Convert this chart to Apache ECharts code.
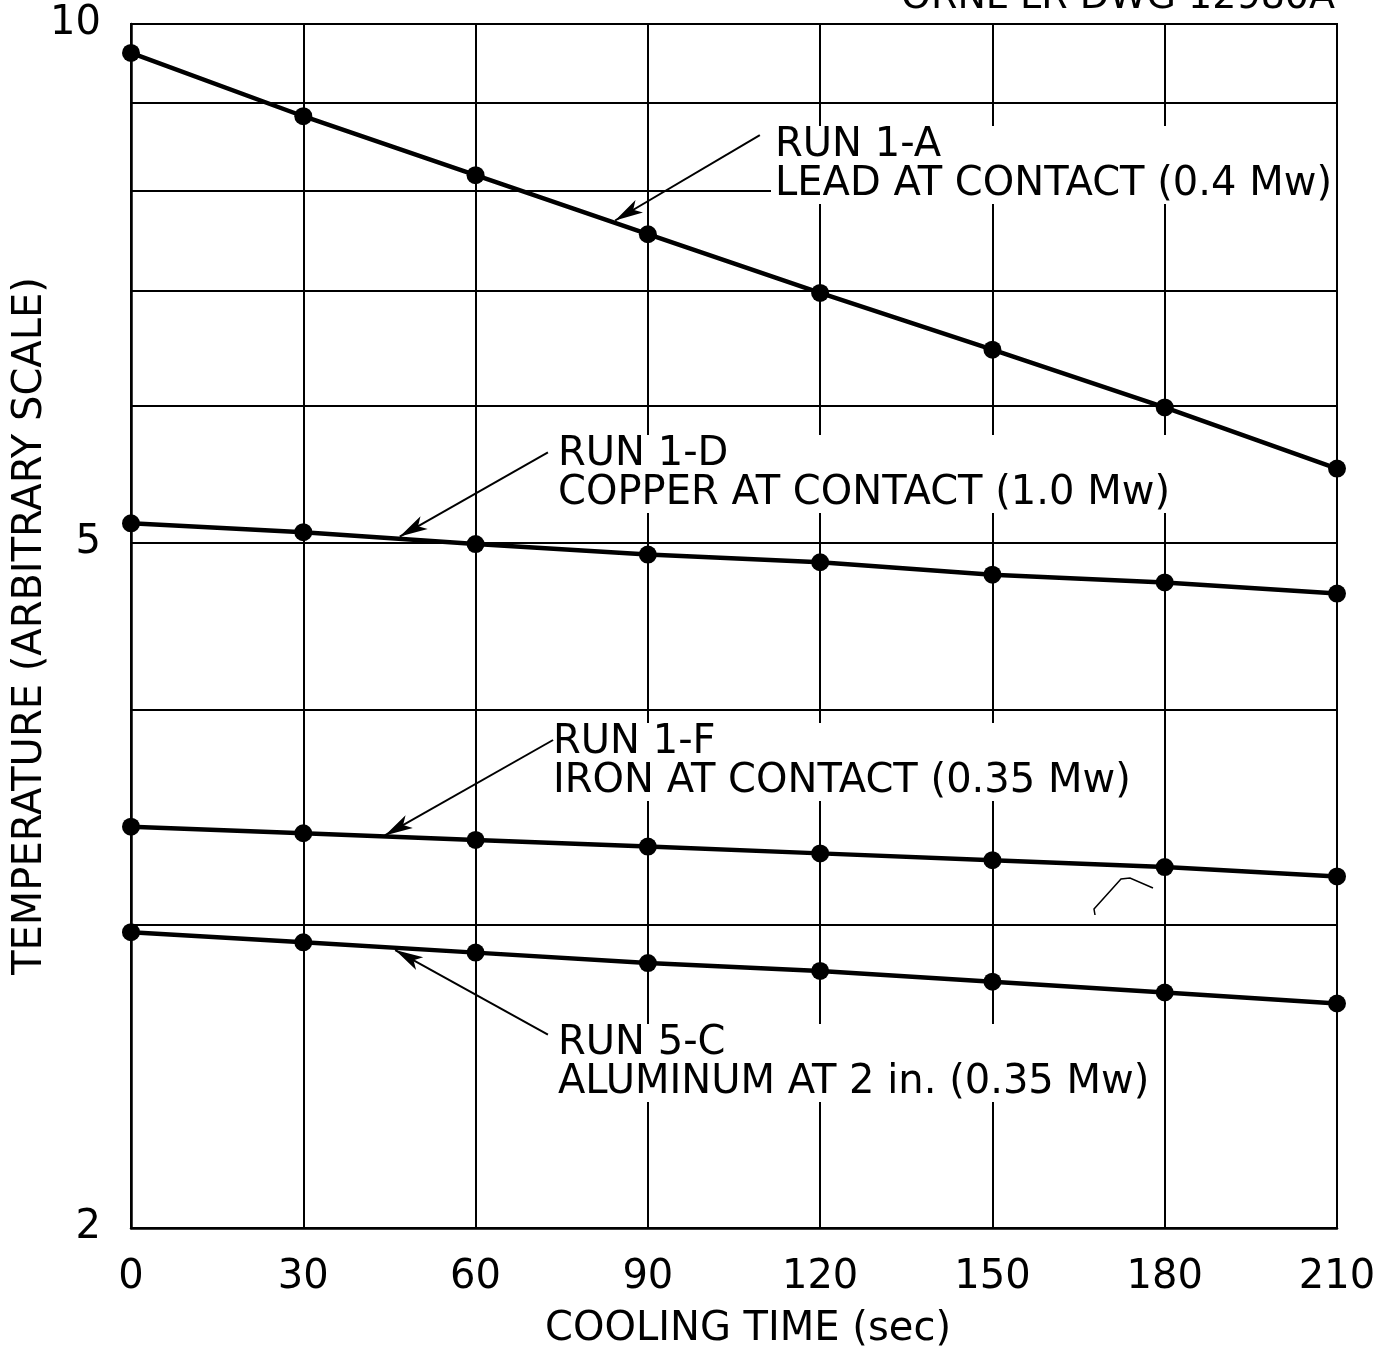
<!DOCTYPE html>
<html>
<head>
<meta charset="utf-8">
<script src="https://cdn.jsdelivr.net/npm/echarts@6/dist/echarts.min.js"></script>
<style>
html, body { margin: 0; padding: 0; background: #fff; }
#main { width: 1377px; height: 1349px; }
</style>
</head>
<body>
<div id="main"></div>
<script>
// cooling time (sec) and temperature readings (arbitrary scale)
const coolingTime = [0, 30, 60, 90, 120, 150, 180, 210];
const run1A = [9.62, 8.84, 8.17, 7.55, 6.98, 6.47, 5.99, 5.52];
const run1D = [5.13, 5.07, 4.99, 4.92, 4.87, 4.79, 4.74, 4.67];
const run1F = [3.42, 3.39, 3.36, 3.33, 3.30, 3.27, 3.24, 3.20];
const run5C = [2.97, 2.93, 2.89, 2.85, 2.82, 2.78, 2.74, 2.70];

const yGridValues = [2, 3, 4, 5, 6, 7, 8, 9, 10];
const yLabelValues = [2, 5, 10];

// arrow from label to curve: [fromTime, fromTemp, toTime, toTemp]
const arrow1A = [109.5, 8.62, 84.3, 7.69];
const arrow1D = [72.6, 5.64, 46.8, 5.04];
const arrow1F = [73.5, 3.84, 44.2, 3.38];
const arrow5C = [72.6, 2.59, 46.0, 2.90];

const FONT = '"DejaVu Sans", sans-serif';

function pairs(vals) {
    return coolingTime.map((t, i) => [t, vals[i]]);
}

function runSeries(name, vals, arrow) {
    return {
        name: name,
        type: 'line',
        data: pairs(vals),
        symbol: 'circle',
        symbolSize: 18,
        showSymbol: true,
        itemStyle: { color: '#000' },
        lineStyle: { color: '#000', width: 4.5 },
        animation: false,
        markLine: {
            silent: true,
            symbol: ['none', 'arrow'],
            symbolSize: [11, 28],
            lineStyle: { color: '#000', width: 2, type: 'solid' },
            label: { show: false },
            data: [[
                { coord: [arrow[0], arrow[1]] },
                { coord: [arrow[2], arrow[3]] }
            ]]
        }
    };
}

function note(x, y, text) {
    return {
        type: 'text',
        x: x,
        y: y,
        z: 5,
        style: {
            text: text,
            fill: '#000',
            font: '40px ' + FONT,
            lineHeight: 39,
            backgroundColor: '#fff',
            padding: [0, 4, 0, 4]
        }
    };
}

const myChart = echarts.init(document.getElementById('main'));

const option = {
    backgroundColor: '#fff',
    animation: false,
    grid: {
        left: 131,
        right: 40,
        top: 24,
        bottom: 121,
        outerBoundsMode: 'none',
        containLabel: false,
        show: true,
        borderColor: '#000',
        borderWidth: 2
    },
    xAxis: {
        type: 'value',
        min: 0,
        max: 210,
        interval: 30,
        name: 'COOLING TIME (sec)',
        nameLocation: 'middle',
        nameGap: 82,
        nameMoveOverlap: false,
        nameTextStyle: { color: '#000', fontSize: 40, fontFamily: FONT, padding: [0, 0, 0, 28] },
        axisLine: { lineStyle: { color: '#000', width: 2.5 } },
        axisTick: { show: false },
        axisLabel: { color: '#000', fontSize: 40, fontFamily: FONT, margin: 30 },
        splitLine: { show: true, lineStyle: { color: '#000', width: 2 } }
    },
    yAxis: {
        type: 'log',
        logBase: 10,
        min: 2,
        max: 10,
        name: 'TEMPERATURE (ARBITRARY SCALE)',
        nameLocation: 'middle',
        nameGap: 80,
        nameMoveOverlap: false,
        nameTextStyle: { color: '#000', fontSize: 40, fontFamily: FONT },
        axisLine: { show: true, lineStyle: { color: '#000', width: 2.5 } },
        axisTick: { show: false, customValues: yGridValues },
        axisLabel: {
            color: '#000', fontSize: 40, fontFamily: FONT, margin: 30,
            customValues: yLabelValues
        },
        splitLine: { show: true, lineStyle: { color: '#000', width: 2 } }
    },
    graphic: [
        {
            type: 'text',
            x: 1335,
            y: -2,
            style: {
                text: 'ORNL-LR-DWG 12980A',
                fill: '#000',
                font: '38px ' + FONT,
                align: 'right',
                verticalAlign: 'middle'
            }
        },
        note(771, 126, 'RUN 1-A\nLEAD AT CONTACT (0.4 Mw)'),
        note(554, 435, 'RUN 1-D\nCOPPER AT CONTACT (1.0 Mw)'),
        note(549, 723, 'RUN 1-F\nIRON AT CONTACT (0.35 Mw)'),
        note(554, 1024, 'RUN 5-C\nALUMINUM AT 2 in. (0.35 Mw)'),
        {
            type: 'polyline',
            shape: { points: [[1095, 915], [1094, 909], [1121, 879], [1130, 878], [1153, 888]] },
            style: { stroke: '#000', lineWidth: 1.5, fill: null }
        }
    ],
    series: [
        runSeries('RUN 1-A', run1A, arrow1A),
        runSeries('RUN 1-D', run1D, arrow1D),
        runSeries('RUN 1-F', run1F, arrow1F),
        runSeries('RUN 5-C', run5C, arrow5C)
    ]
};

myChart.setOption(option);
</script>
</body>
</html>
